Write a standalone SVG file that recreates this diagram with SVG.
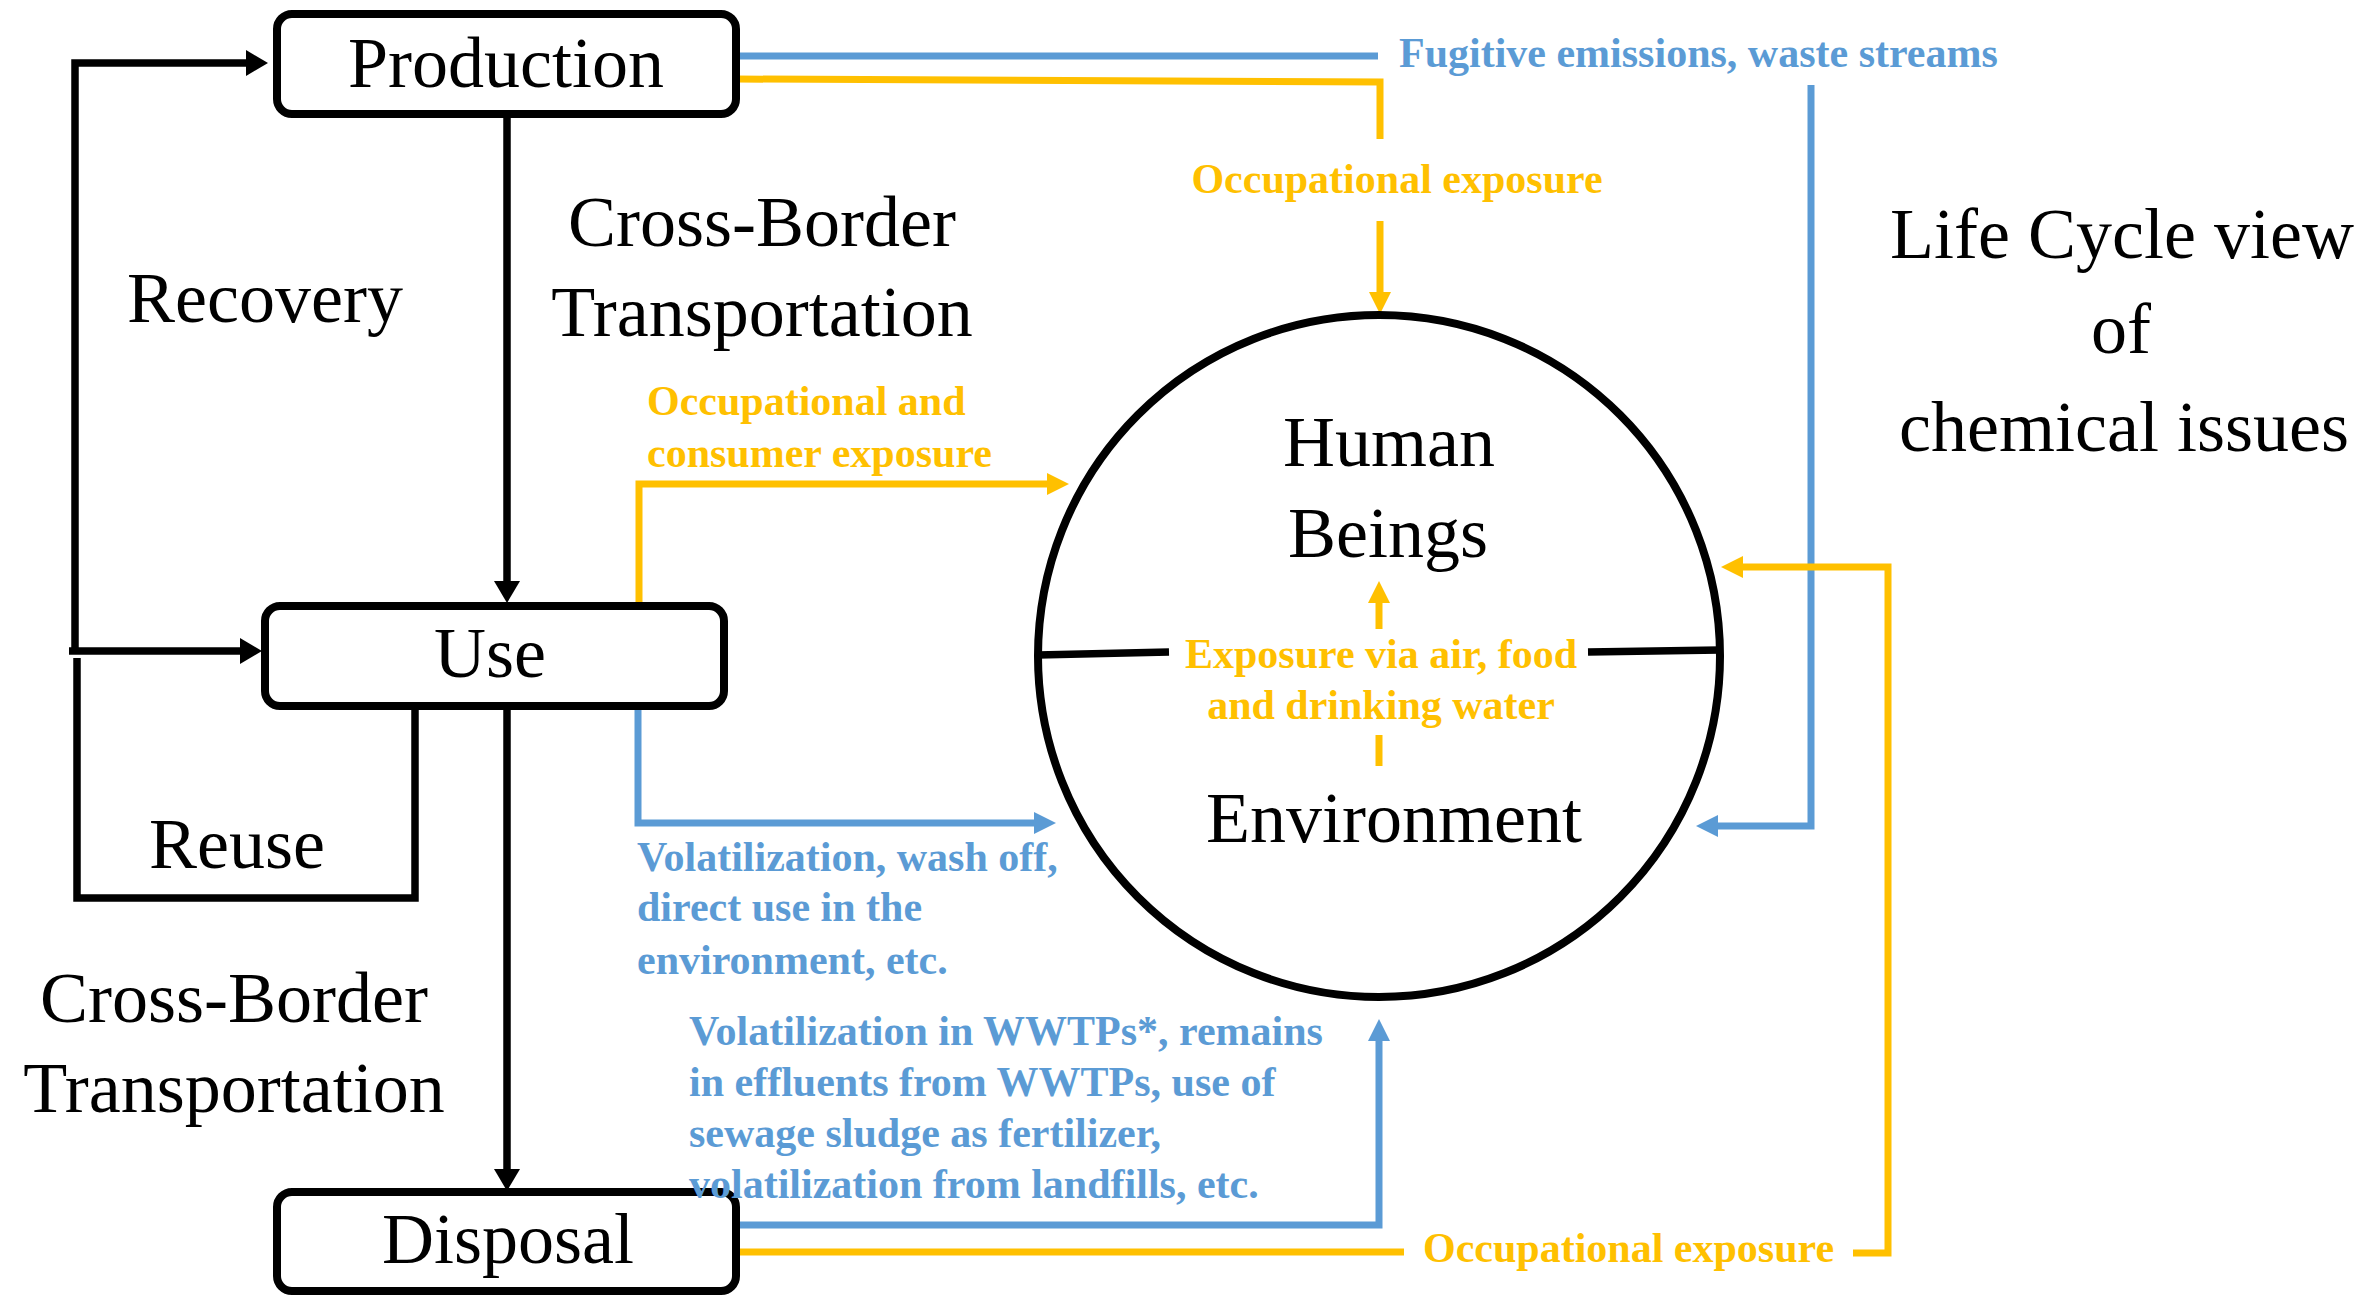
<svg xmlns="http://www.w3.org/2000/svg" width="2371" height="1295" viewBox="0 0 2371 1295">
<style>
  .box { fill: #fff; stroke: #000; stroke-width: 8; }
  .big { font-family: "Liberation Serif", "Times New Roman", serif; font-size: 72px; fill: #000; }
  .mid { text-anchor: middle; }
  .lbl { font-family: "Liberation Serif", "Times New Roman", serif; font-size: 42px; font-weight: bold; }
  .yt { fill: #FFC000; }
  .bt { fill: #5B9BD5; }
  .k { fill: none; stroke: #000; stroke-width: 7.5; }
  .y { fill: none; stroke: #FFC000; stroke-width: 7; }
  .b { fill: none; stroke: #5B9BD5; stroke-width: 7; }
</style>
<defs>
  <marker id="ak" markerUnits="userSpaceOnUse" markerWidth="26" markerHeight="28" refX="1" refY="13" orient="auto" overflow="visible">
    <path d="M0,0 L22,13 L0,26 Z" fill="#000"/>
  </marker>
  <marker id="ay" markerUnits="userSpaceOnUse" markerWidth="24" markerHeight="24" refX="1" refY="11" orient="auto" overflow="visible">
    <path d="M0,0 L22,11 L0,22 Z" fill="#FFC000"/>
  </marker>
  <marker id="ab" markerUnits="userSpaceOnUse" markerWidth="24" markerHeight="24" refX="1" refY="11" orient="auto" overflow="visible">
    <path d="M0,0 L22,11 L0,22 Z" fill="#5B9BD5"/>
  </marker>
</defs>
<rect width="2371" height="1295" fill="#fff"/>

<g id="connectors">
  <path class="k" d="M75,651 V63 H247" marker-end="url(#ak)"/>
  <path class="k" d="M69,651 H241" marker-end="url(#ak)"/>
  <path class="k" d="M415,706 V898 H77 V658"/>
  <path class="k" d="M507,114 V582" marker-end="url(#ak)"/>
  <path class="k" d="M507,706 V1170" marker-end="url(#ak)"/>
  <path class="b" d="M737,56 H1378"/>
  <path class="y" d="M737,79 L1380,82 V139"/>
  <path class="y" d="M1380,221 V293" marker-end="url(#ay)"/>
  <path class="b" d="M1811,85 V826 H1717" marker-end="url(#ab)"/>
  <path class="y" d="M639,603 V484 H1048" marker-end="url(#ay)"/>
  <path class="b" d="M638,709 V823 H1035" marker-end="url(#ab)"/>
  <path class="b" d="M738,1225 H1379 V1040" marker-end="url(#ab)"/>
  <path class="y" d="M738,1252 H1404"/>
  <path class="y" d="M1853,1253 H1888 V567 H1742" marker-end="url(#ay)"/>
  <path class="y" d="M1379,629 V602" marker-end="url(#ay)"/>
  <path class="y" d="M1379,735 V766"/>
</g>

<g id="production">
  <rect class="box" x="277" y="14" width="459" height="100" rx="15"/>
  <text class="big mid" x="506" y="87">Production</text>
</g>
<g id="use">
  <rect class="box" x="265" y="606" width="459" height="100" rx="15"/>
  <text class="big mid" x="490" y="677">Use</text>
</g>
<g id="disposal">
  <rect class="box" x="277" y="1192" width="459" height="99" rx="15"/>
  <text class="big mid" x="508" y="1263">Disposal</text>
</g>

<g id="human-environment">
  <circle cx="1379" cy="656" r="341" fill="none" stroke="#000" stroke-width="8"/>
  <path d="M1038,655 L1169,652 M1588,652 L1720,650" fill="none" stroke="#000" stroke-width="7.5"/>
  <text class="big mid" x="1389" y="466">Human</text>
  <text class="big mid" x="1388" y="557">Beings</text>
  <text class="big mid" x="1394" y="842">Environment</text>
  <text class="lbl yt mid" x="1381" y="668">Exposure via air, food</text>
  <text class="lbl yt mid" x="1381" y="719">and drinking water</text>
</g>

<g id="labels">
  <text class="big mid" x="265" y="322">Recovery</text>
  <text class="big mid" x="237" y="868">Reuse</text>
  <text class="big mid" x="762" y="246">Cross-Border</text>
  <text class="big mid" x="762" y="336">Transportation</text>
  <text class="big mid" x="234" y="1022">Cross-Border</text>
  <text class="big mid" x="234" y="1112">Transportation</text>

  <text class="lbl bt" x="1399" y="67">Fugitive emissions, waste streams</text>
  <text class="lbl yt mid" x="1397" y="193">Occupational exposure</text>
  <text class="lbl yt" x="647" y="415">Occupational and</text>
  <text class="lbl yt" x="647" y="467">consumer exposure</text>
  <text class="lbl bt" x="637" y="871">Volatilization, wash off,</text>
  <text class="lbl bt" x="637" y="921">direct use in the</text>
  <text class="lbl bt" x="637" y="974">environment, etc.</text>
  <text class="lbl bt" x="689" y="1045">Volatilization in WWTPs*, remains</text>
  <text class="lbl bt" x="689" y="1096">in effluents from WWTPs, use of</text>
  <text class="lbl bt" x="689" y="1147">sewage sludge as fertilizer,</text>
  <text class="lbl bt" x="689" y="1198">volatilization from landfills, etc.</text>
  <text class="lbl yt" x="1423" y="1262">Occupational exposure</text>
</g>

<g id="title">
  <text class="big mid" x="2122" y="258">Life Cycle view</text>
  <text class="big mid" x="2121" y="353">of</text>
  <text class="big mid" x="2124" y="451">chemical issues</text>
</g>
</svg>
